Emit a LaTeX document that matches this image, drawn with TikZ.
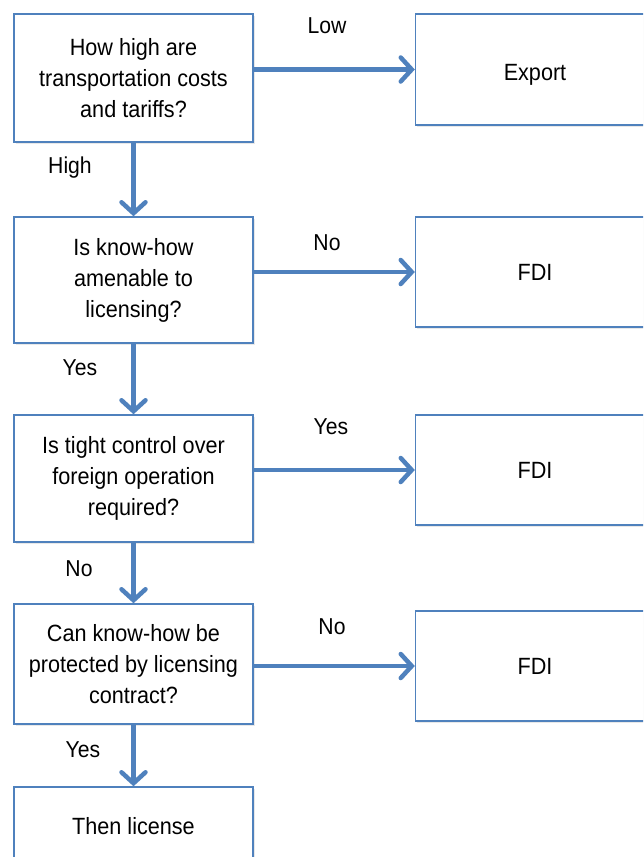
\documentclass[tikz,border=0pt]{standalone}
\usepackage{fontspec}
\setmainfont{Liberation Sans}[FakeStretch=0.92]
\usetikzlibrary{arrows.meta,shadows,positioning}
\definecolor{boxblue}{RGB}{79,129,189}
\tikzset{
  box/.style={draw=boxblue, line width=1.4pt, fill=white, rectangle,
    minimum width=239pt, align=center, inner sep=2pt,
    font=\fontsize{23.5}{31}\selectfont,
    drop shadow={opacity=0.18, shadow xshift=1.5pt, shadow yshift=-1.5pt}},
  arr/.style={draw=boxblue, line width=4.5pt,
    -{Straight Barb[length=11pt, width=24pt, line width=4.5pt, line cap=round]}},
  lbl/.style={font=\fontsize{23}{25}\selectfont, inner sep=0pt}
}
\begin{document}
\begin{tikzpicture}[x=1pt, y=-1pt]
\useasboundingbox (0,0) rectangle (643,857);
\clip (0,0) rectangle (643,857);
% left column
\node[box, minimum height=128pt] (q1) at (133.5,78) {How high are\\transportation costs\\and tariffs?};
\node[box, minimum height=126pt] (q2) at (133.5,280) {Is know-how\\amenable to\\licensing?};
\node[box, minimum height=127pt] (q3) at (133.5,478.5) {Is tight control over\\foreign operation\\required?};
\node[box, minimum height=120pt] (q4) at (133.5,664) {Can know-how be\\protected by licensing\\contract?};
\node[box, minimum height=78pt] (q5) at (133.5,826) {Then license};
% right column
\node[box, minimum height=111pt, text depth=0pt, text height=14pt] (r1) at (535,69.5) {\raisebox{-4pt}{Export}};
\node[box, minimum height=110pt] (r2) at (535,272) {FDI};
\node[box, minimum height=110pt] (r3) at (535,470) {FDI};
\node[box, minimum height=110pt] (r4) at (535,666) {FDI};
% connectors
\draw[arr] (q1.east |- r1.west) -- (r1.west);
\draw[arr] (q2.east |- r2.west) -- (r2.west);
\draw[arr] (q3.east |- r3.west) -- (r3.west);
\draw[arr] (q4.east |- r4.west) -- (r4.west);
\draw[arr] (q1.south) -- (q2.north);
\draw[arr] (q2.south) -- (q3.north);
\draw[arr] (q3.south) -- (q4.north);
\draw[arr] (q4.south) -- (q5.north);
% labels
\node[lbl] (lLow) at (327,26) {Low};
\node[lbl] (lHigh) at (70,168) {High};
\node[lbl] (lNo1) at (327,243) {No};
\node[lbl] (lYes1) at (80,368) {Yes};
\node[lbl] (lYes2) at (331,427) {Yes};
\node[lbl] (lNo2) at (79,569) {No};
\node[lbl] (lNo3) at (332,627) {No};
\node[lbl] (lYes3) at (83,750) {Yes};
\end{tikzpicture}
\end{document}
